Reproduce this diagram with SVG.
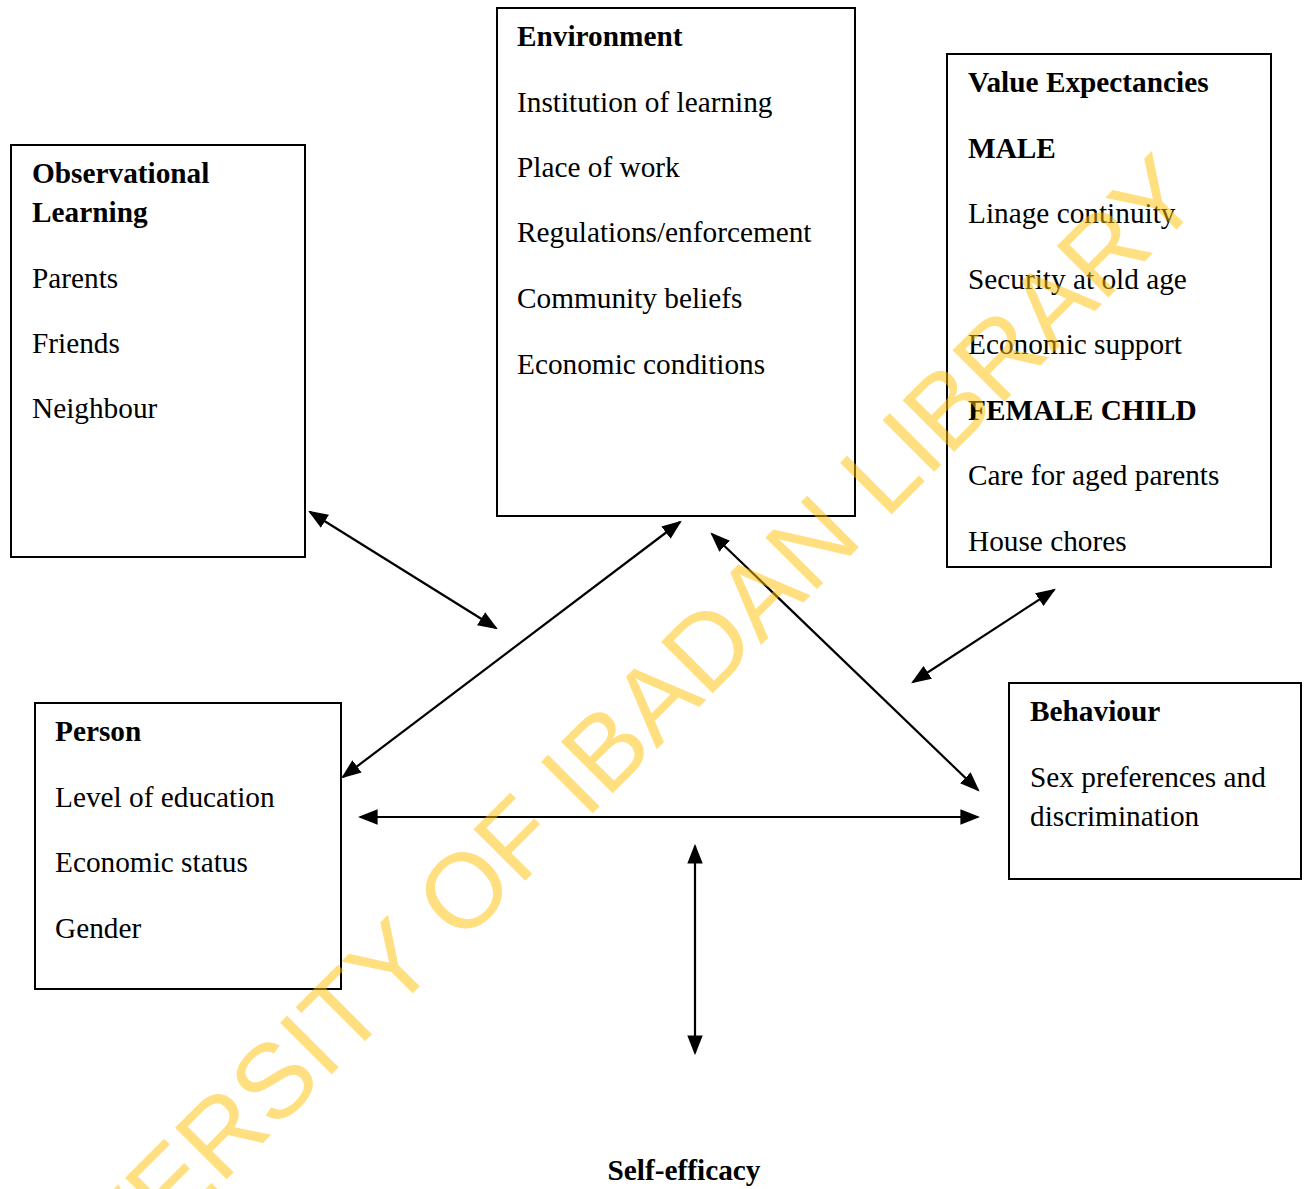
<svg xmlns="http://www.w3.org/2000/svg" width="1307" height="1189" viewBox="0 0 1307 1189">
<style>
  .box { fill: #ffffff; stroke: #000000; stroke-width: 2; }
  .t { font-family: "Liberation Serif", "Times New Roman", serif; font-size: 29.3px; fill: #000000; }
  .b { font-weight: bold; }
  .conn { stroke: #000000; stroke-width: 2.2; fill: none; marker-start: url(#ah); marker-end: url(#ah); }
  .wm { font-family: "Liberation Sans", Arial, sans-serif; font-size: 106px; fill: #FFC000; fill-opacity: 0.5; }
</style>
<defs>
  <marker id="ah" markerUnits="strokeWidth" markerWidth="9" markerHeight="7" refX="8" refY="3.5" orient="auto-start-reverse" viewBox="0 0 9 7">
    <path d="M0,0 L9,3.5 L0,7 z" fill="#000000"/>
  </marker>
</defs>
<rect width="1307" height="1189" fill="#ffffff"/>

<g id="observational-learning">
  <rect class="box" x="11" y="145" width="294" height="412"/>
  <text class="t b" x="32" y="183">Observational</text>
  <text class="t b" x="32" y="222">Learning</text>
  <text class="t" x="32" y="288">Parents</text>
  <text class="t" x="32" y="353">Friends</text>
  <text class="t" x="32" y="418">Neighbour</text>
</g>

<g id="environment">
  <rect class="box" x="497" y="8" width="358" height="508"/>
  <text class="t b" x="517" y="46">Environment</text>
  <text class="t" x="517" y="112">Institution of learning</text>
  <text class="t" x="517" y="177">Place of work</text>
  <text class="t" x="517" y="242">Regulations/enforcement</text>
  <text class="t" x="517" y="308">Community beliefs</text>
  <text class="t" x="517" y="374">Economic conditions</text>
</g>

<g id="value-expectancies">
  <rect class="box" x="947" y="54" width="324" height="513"/>
  <text class="t b" x="968" y="92">Value Expectancies</text>
  <text class="t b" x="968" y="158">MALE</text>
  <text class="t" x="968" y="223">Linage continuity</text>
  <text class="t" x="968" y="289">Security at old age</text>
  <text class="t" x="968" y="354">Economic support</text>
  <text class="t b" x="968" y="420">FEMALE CHILD</text>
  <text class="t" x="968" y="485">Care for aged parents</text>
  <text class="t" x="968" y="551">House chores</text>
</g>

<g id="person">
  <rect class="box" x="35" y="703" width="306" height="286"/>
  <text class="t b" x="55" y="741">Person</text>
  <text class="t" x="55" y="807">Level of education</text>
  <text class="t" x="55" y="872">Economic status</text>
  <text class="t" x="55" y="938">Gender</text>
</g>

<g id="behaviour">
  <rect class="box" x="1009" y="683" width="292" height="196"/>
  <text class="t b" x="1030" y="721">Behaviour</text>
  <text class="t" x="1030" y="787">Sex preferences and</text>
  <text class="t" x="1030" y="826">discrimination</text>
</g>

<g id="self-efficacy">
  <text class="t b" x="684" y="1180" text-anchor="middle">Self-efficacy</text>
</g>

<g id="connectors">
  <line class="conn" x1="310" y1="512" x2="496" y2="628"/>
  <line class="conn" x1="343" y1="777" x2="680" y2="522"/>
  <line class="conn" x1="712" y1="534" x2="978" y2="790"/>
  <line class="conn" x1="1054" y1="590" x2="913" y2="682"/>
  <line class="conn" x1="360" y1="817" x2="978" y2="817"/>
  <line class="conn" x1="695" y1="846" x2="695" y2="1053"/>
</g>

<text class="wm" transform="translate(1205,201) rotate(-45)" text-anchor="end">UNIVERSITY OF IBADAN LIBRARY</text>
</svg>
